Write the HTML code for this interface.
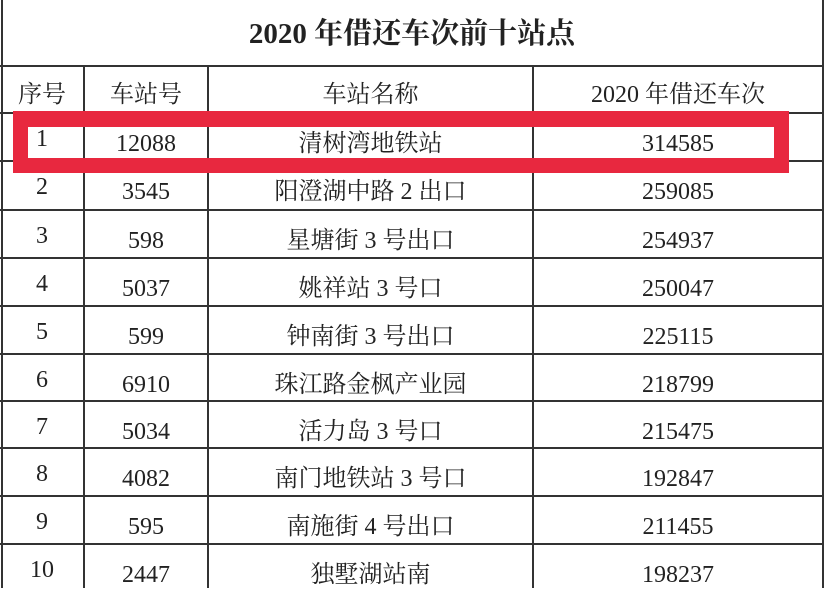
<!DOCTYPE html>
<html><head><meta charset="utf-8"><style>
body{margin:0;width:828px;height:588px;background:#fff;overflow:hidden;position:relative;font-family:"Liberation Serif","Noto Serif CJK SC",serif;color:#222}
.h{position:absolute;left:0;width:824px;height:2px;background:#333}
.v{position:absolute;width:2px;background:#333}
.t{position:absolute;font-size:24px;line-height:48px;text-align:center;white-space:nowrap}
</style></head><body>
<div class="v" style="left:1px;top:0;height:588px"></div>
<div class="v" style="left:822px;top:0;height:588px"></div>
<div class="h" style="top:65px"></div>
<div class="v" style="left:83px;top:65px;height:523px"></div>
<div class="v" style="left:207px;top:65px;height:523px"></div>
<div class="v" style="left:532px;top:65px;height:523px"></div>
<div class="h" style="top:112px"></div>
<div class="h" style="top:160px"></div>
<div class="h" style="top:209px"></div>
<div class="h" style="top:257px"></div>
<div class="h" style="top:305px"></div>
<div class="h" style="top:353px"></div>
<div class="h" style="top:400px"></div>
<div class="h" style="top:447px"></div>
<div class="h" style="top:495px"></div>
<div class="h" style="top:543px"></div>
<div style="position:absolute;left:13px;top:111px;width:746px;height:31px;border:15px solid #e8283f;border-top-width:16px"></div>
<div style="position:absolute;left:0;top:14px;width:824px;text-align:center;font-size:29px;font-weight:bold;line-height:40px">2020 年借还车次前十站点</div>
<div id="rows"></div>
<script>
var d=[["序号","车站号","车站名称","2020 年借还车次"],["1","12088","清树湾地铁站","314585"],["2","3545","阳澄湖中路 2 出口","259085"],["3","598","星塘街 3 号出口","254937"],["4","5037","姚祥站 3 号口","250047"],["5","599","钟南街 3 号出口","225115"],["6","6910","珠江路金枫产业园","218799"],["7","5034","活力岛 3 号口","215475"],["8","4082","南门地铁站 3 号口","192847"],["9","595","南施街 4 号出口","211455"],["10","2447","独墅湖站南","198237"]];
var tops=[65,112,160,209,257,305,353,400,447,495,543];
var cols=[[3,78],[85,122],[209,323],[534,288]];
var h="";
for(var i=0;i<d.length;i++){for(var j=0;j<4;j++){var dy=(j==0&&i>0)?3:(i==0?6:8);
h+='<div class="t" style="left:'+cols[j][0]+'px;width:'+cols[j][1]+'px;top:'+(tops[i]+dy)+'px">'+d[i][j]+'</div>';}}
document.getElementById("rows").innerHTML=h;
</script>
</body></html>
